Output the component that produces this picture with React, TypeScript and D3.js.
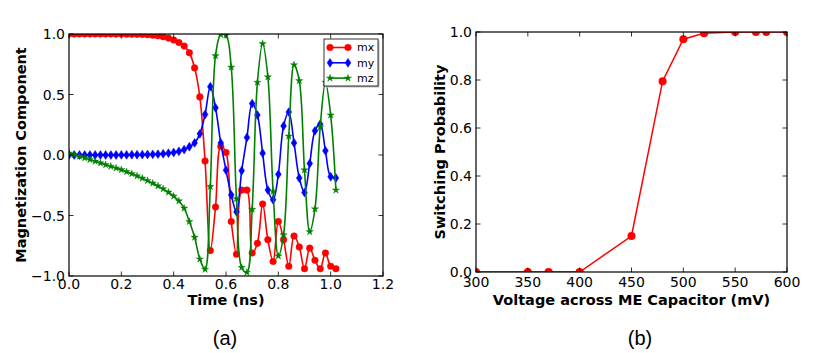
import React from "react";
import * as d3 from "d3";

// ---------- Data: panel (a) ----------
const TIME = [
  0.0, 0.02, 0.04, 0.06, 0.08, 0.1, 0.12, 0.14, 0.16, 0.18, 0.2, 0.22, 0.24,
  0.26, 0.28, 0.3, 0.32, 0.34, 0.36, 0.38, 0.4, 0.42, 0.44, 0.46, 0.48, 0.5,
  0.52, 0.54, 0.56, 0.58, 0.6, 0.62, 0.64, 0.66, 0.68, 0.7, 0.72, 0.74, 0.76,
  0.78, 0.8, 0.82, 0.84, 0.86, 0.88, 0.9, 0.92, 0.94, 0.96, 0.98, 1.0, 1.02,
];
const MX = [
  1.0, 1.0, 1.0, 1.0, 1.0, 1.0, 1.0, 1.0, 1.0,
  0.999, 0.999, 0.998, 0.998, 0.997, 0.996, 0.994, 0.99, 0.985, 0.977, 0.966,
  0.95, 0.93, 0.9, 0.845, 0.72, 0.48,
  -0.05, -0.79, -0.43, 0.07, 0.02, -0.55, -0.82, -0.29, -0.29, -0.81, -0.73,
  -0.405, -0.7, -0.88, -0.55, -0.7, -0.92, -0.67, -0.76, -0.94, -0.77, -0.87,
  -0.94, -0.81, -0.92, -0.94,
];
const MY = [
  0.0, 0.0, 0.0, 0.0, 0.0, 0.0, 0.0, 0.0, 0.0,
  0.0, 0.001, 0.001, 0.002, 0.002, 0.003, 0.004, 0.005, 0.007, 0.01, 0.015,
  0.021, 0.03, 0.045, 0.068, 0.1, 0.175,
  0.335, 0.565, 0.39, 0.1, -0.125, -0.33, -0.47, -0.13, 0.145, 0.425, 0.33,
  0.015, -0.29, -0.37, -0.16, 0.24, 0.355, 0.1, -0.19, -0.31, -0.07, 0.2,
  0.255, 0.035, -0.18, -0.19,
];
const MZ = [
  0.015, 0.003, -0.01, -0.024, -0.038, -0.052, -0.066, -0.08, -0.094,
  -0.108, -0.122, -0.138, -0.155, -0.173, -0.192, -0.212, -0.233, -0.256,
  -0.28, -0.308, -0.34, -0.38, -0.44, -0.55, -0.68, -0.86,
  -0.945, -0.26, 0.82, 0.995, 0.99, 0.725, -0.36, -0.93, -0.97, -0.45, 0.6,
  0.92, 0.645, -0.3, -0.835, -0.66, 0.155, 0.745, 0.614, -0.124, -0.634,
  -0.446, 0.23, 0.6, 0.33, -0.29,
];
const SERIES_NAMES = ["mx", "my", "mz"];
const X_TICKS_A = [0, 0.2, 0.4, 0.6, 0.8, 1.0, 1.2];
const Y_TICKS_A = [-1, -0.5, 0, 0.5, 1];

// ---------- Data: panel (b) ----------
const VOLTAGE = [300, 350, 370, 400, 450, 480, 500, 520, 550, 570, 580, 600];
const PROB = [0, 0, 0, 0, 0.15, 0.795, 0.97, 0.995, 1.0, 1.0, 1.0, 1.0];
const X_TICKS_B = [300, 350, 400, 450, 500, 550, 600];
const Y_TICKS_B = [0, 0.2, 0.4, 0.6, 0.8, 1.0];

const FONT = "'DejaVu Sans', sans-serif";
const TICK_FS = 14;
const LABEL_FS = 14.5;
const TICK_LEN = 4.5;

const fmt1 = (v: number) => d3.format(".1f")(v).replace("-", "\u2212");

const RED = "#ff0000";
const BLUE = "#0000ff";
const GREEN = "#008000";

function Marker({ kind, x, y, color, size }: { kind: string; x: number; y: number; color: string; size: number }) {
  if (kind === "circle") return <circle cx={x} cy={y} r={size} fill={color} stroke={color} strokeWidth={0.5} />;
  if (kind === "diamond") {
    const h = size * 1.3;
    const w = size * 0.85;
    return <path d={`M${x},${y - h}L${x + w},${y}L${x},${y + h}L${x - w},${y}Z`} fill={color} stroke={color} strokeWidth={0.5} />;
  }
  const p = d3.symbol(d3.symbolStar, size * size * 1.25)() as string;
  return <path d={p} transform={`translate(${x},${y})`} fill={color} stroke={color} strokeWidth={0.4} />;
}

function Frame({ x0, x1, y0, y1, xTicks, yTicks, xs, ys, xfmt, yfmt, xLabelGap }: any) {
  return (
    <g>
      <rect x={x0} y={y0} width={x1 - x0} height={y1 - y0} fill="none" stroke="#000" strokeWidth={1.2} />
      {xTicks.map((t: number, i: number) => (
        <g key={"xt" + i}>
          <line x1={xs(t)} x2={xs(t)} y1={y1} y2={y1 - TICK_LEN} stroke="#000" strokeWidth={0.8} />
          <line x1={xs(t)} x2={xs(t)} y1={y0} y2={y0 + TICK_LEN} stroke="#000" strokeWidth={0.8} />
          <text x={xs(t)} y={y1 + xLabelGap} textAnchor="middle" fontFamily={FONT} fontSize={TICK_FS} fill="#000">
            {xfmt(t)}
          </text>
        </g>
      ))}
      {yTicks.map((t: number, i: number) => (
        <g key={"yt" + i}>
          <line x1={x0} x2={x0 + TICK_LEN} y1={ys(t)} y2={ys(t)} stroke="#000" strokeWidth={0.8} />
          <line x1={x1} x2={x1 - TICK_LEN} y1={ys(t)} y2={ys(t)} stroke="#000" strokeWidth={0.8} />
          <text x={x0 - 4} y={ys(t)} dy="0.36em" textAnchor="end" fontFamily={FONT} fontSize={TICK_FS} fill="#000">
            {yfmt(t)}
          </text>
        </g>
      ))}
    </g>
  );
}

export default function App() {
  // Panel (a)
  const ax0 = 69, ax1 = 383, ay0 = 34, ay1 = 276;
  const xa = d3.scaleLinear().domain([0, 1.2]).range([ax0, ax1]);
  const ya = d3.scaleLinear().domain([-1, 1]).range([ay1, ay0]);
  const seriesA = [
    { name: SERIES_NAMES[0], vals: MX, color: RED, kind: "circle", size: 3.3 },
    { name: SERIES_NAMES[1], vals: MY, color: BLUE, kind: "diamond", size: 3.4 },
    { name: SERIES_NAMES[2], vals: MZ, color: GREEN, kind: "star", size: 3.6 },
  ];
  const lineA = d3
    .line<number>()
    .x((_, i) => xa(TIME[i]))
    .y((d) => ya(d))
    .curve(d3.curveCatmullRom.alpha(0.5));

  // Panel (b)
  const bx0 = 476, bx1 = 787, by0 = 32, by1 = 272;
  const xb = d3.scaleLinear().domain([300, 600]).range([bx0, bx1]);
  const yb = d3.scaleLinear().domain([0, 1]).range([by1, by0]);
  const lineB = d3
    .line<number>()
    .x((_, i) => xb(VOLTAGE[i]))
    .y((d) => yb(d));

  const legX = 324, legY = 39, legW = 54, legH = 47;

  return (
    <svg width={830} height={353} style={{ position: "absolute", left: 0, top: 0, background: "#fff" }}>
      <defs>
        <clipPath id="clipA">
          <rect x={ax0} y={ay0} width={ax1 - ax0} height={ay1 - ay0} />
        </clipPath>
        <clipPath id="clipB">
          <rect x={bx0} y={by0} width={bx1 - bx0} height={by1 - by0} />
        </clipPath>
      </defs>
      <rect x={0} y={0} width={830} height={353} fill="#fff" />

      {/* Panel (a) */}
      <g clipPath="url(#clipA)">
        {seriesA.map((s) => (
          <g key={s.name}>
            <path d={lineA(s.vals) as string} fill="none" stroke={s.color} strokeWidth={1.6} />
            {s.vals.map((v, i) => (
              <Marker key={i} kind={s.kind} x={xa(TIME[i])} y={ya(v)} color={s.color} size={s.size} />
            ))}
          </g>
        ))}
      </g>
      <Frame
        x0={ax0} x1={ax1} y0={ay0} y1={ay1}
        xTicks={X_TICKS_A} yTicks={Y_TICKS_A} xs={xa} ys={ya}
        xfmt={fmt1} yfmt={fmt1} xLabelGap={13}
      />
      {/* Legend */}
      <rect x={legX + 1.5} y={legY + 1.5} width={legW} height={legH} fill="#bbb" />
      <rect x={legX} y={legY} width={legW} height={legH} fill="#fff" stroke="#000" strokeWidth={0.8} />
      {seriesA.map((s, i) => {
        const yy = legY + 8.5 + i * 15.3;
        return (
          <g key={"leg" + s.name}>
            <line x1={legX + 6} x2={legX + 24} y1={yy} y2={yy} stroke={s.color} strokeWidth={1.6} />
            <Marker kind={s.kind} x={legX + 6} y={yy} color={s.color} size={s.size} />
            <Marker kind={s.kind} x={legX + 24} y={yy} color={s.color} size={s.size} />
            <text x={legX + 33} y={yy} dy="0.35em" fontFamily={FONT} fontSize={11} fill="#000">
              {s.name}
            </text>
          </g>
        );
      })}
      <text x={(ax0 + ax1) / 2} y={305} textAnchor="middle" fontFamily={FONT} fontSize={LABEL_FS} fontWeight="bold">
        Time (ns)
      </text>
      <text
        transform={`translate(26,${(ay0 + ay1) / 2}) rotate(-90)`}
        textAnchor="middle" fontFamily={FONT} fontSize={LABEL_FS} fontWeight="bold"
      >
        Magnetization Component
      </text>
      <text x={225} y={345} textAnchor="middle" fontFamily="'Liberation Sans', Arial, sans-serif" fontSize={20}>
        (a)
      </text>

      {/* Panel (b) */}
      <g clipPath="url(#clipB)">
        <path d={lineB(PROB) as string} fill="none" stroke={RED} strokeWidth={1.5} />
        {PROB.map((v, i) => (
          <circle key={i} cx={xb(VOLTAGE[i])} cy={yb(v)} r={4} fill={RED} />
        ))}
      </g>
      <Frame
        x0={bx0} x1={bx1} y0={by0} y1={by1}
        xTicks={X_TICKS_B} yTicks={Y_TICKS_B} xs={xb} ys={yb}
        xfmt={(v: number) => d3.format("d")(v)} yfmt={fmt1} xLabelGap={15}
      />
      <text x={(bx0 + bx1) / 2} y={305} textAnchor="middle" fontFamily={FONT} fontSize={LABEL_FS} fontWeight="bold">
        Voltage across ME Capacitor (mV)
      </text>
      <text
        transform={`translate(445,${(by0 + by1) / 2}) rotate(-90)`}
        textAnchor="middle" fontFamily={FONT} fontSize={LABEL_FS} fontWeight="bold"
      >
        Switching Probability
      </text>
      <text x={640} y={345} textAnchor="middle" fontFamily="'Liberation Sans', Arial, sans-serif" fontSize={20}>
        (b)
      </text>
    </svg>
  );
}
